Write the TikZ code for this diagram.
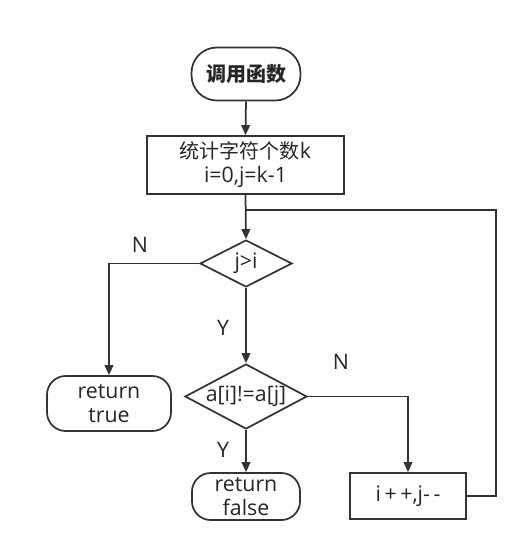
\documentclass[tikz,border=0pt]{standalone}
\usepackage{fontspec}
\setmainfont{Open Sans}
\newfontfamily\cjk{Noto Sans CJK SC}
\usetikzlibrary{shapes.geometric,arrows.meta}
\begin{document}
\begin{tikzpicture}[x=0.75pt,y=-0.75pt,
  every node/.style={font=\fontsize{16pt}{18pt}\selectfont, text=black!85},
  line/.style={draw=black!80, line width=1.3pt},
  arr/.style={line, -{Triangle[length=7.5pt,width=6.5pt]}},
  term/.style={line, rectangle, rounded corners=14pt, inner sep=0pt, align=center},
  proc/.style={line, rectangle, inner sep=0pt, align=center},
  dec/.style={line, diamond, inner sep=0pt},
  lbl/.style={inner sep=0pt}]
\useasboundingbox (0,0) rectangle (527,551);
\node[term, rounded corners=19pt, minimum width=81.75pt, minimum height=39.75pt, font=\fontsize{15pt}{18pt}\selectfont\cjk\bfseries] (start) at (246,74) {调用函数};
\node[proc, minimum width=147.75pt, minimum height=43.5pt] (init) at (245.5,165) {{\cjk\fontsize{15pt}{18pt}\selectfont 统计字符个数}k\\i=0,j=k-1};
\node[dec, minimum width=69pt, minimum height=35.25pt] (d1) at (246,263.5) {};
\node[lbl] (d1t) at (d1.center) {j>i};
\node[term, minimum width=93pt, minimum height=41.25pt] (rt) at (109,403.5) {return\\true};
\node[dec, minimum width=91.5pt, minimum height=48.75pt] (d2) at (246,396.5) {};
\node[lbl] (d2t) at (d2.center) {a[i]!=a[j]};
\node[term, minimum width=81pt, minimum height=35.25pt] (rf) at (246,496.5) {return\\false};
\node[proc, minimum width=87pt, minimum height=34.5pt] (ip) at (408,496) {i\,+\,+,j-\,-};
\node[lbl] (n1) at (140,245) {N};
\node[lbl] (y1) at (223,328) {Y};
\node[lbl] (n2) at (341,362) {N};
\node[lbl] (y2) at (223,450) {Y};
\coordinate (j) at (246,210);
\coordinate (lc) at (496,210);
\draw[arr] (start.south) -- (init.north);
\draw[arr] (init.south) -- (d1.north);
\draw[arr] (d1.west) -| (rt.north);
\draw[arr] (d1.south) -- (d2.north);
\draw[arr] (d2.south) -- (rf.north);
\draw[arr] (d2.east) -| (ip.north);
\draw[line] (ip.east) -| (lc) -- (j);
\end{tikzpicture}
\end{document}
